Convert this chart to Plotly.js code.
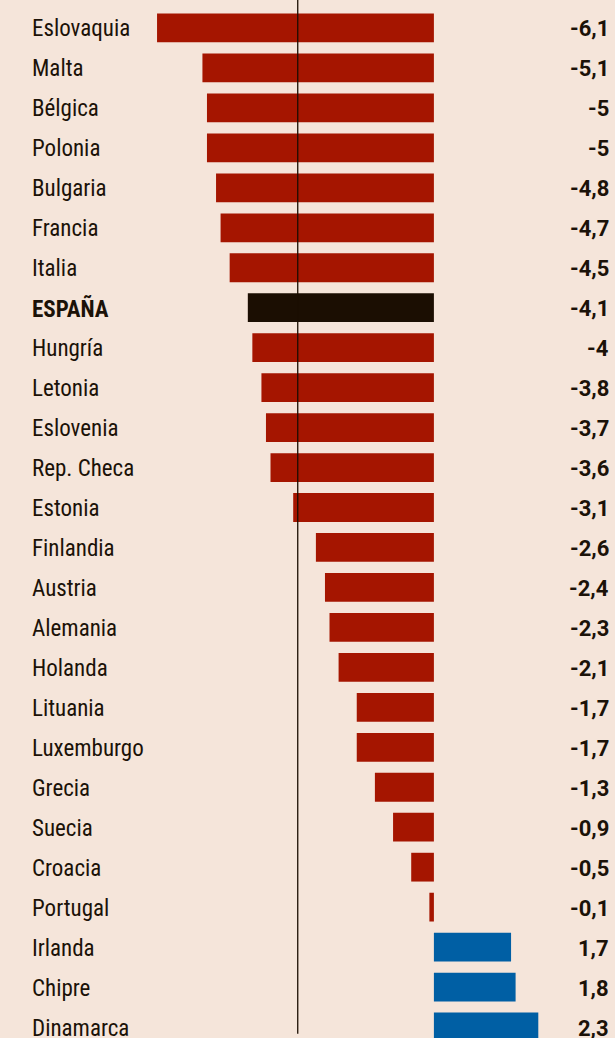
<!DOCTYPE html>
<html>
<head>
<meta charset="utf-8">
<script src="https://cdn.plot.ly/plotly-3.0.1.min.js"></script>
<style>
html,body{margin:0;padding:0;background:#f5e5da;}
#chart{width:615px;height:1038px;}
</style>
</head>
<body>
<div id="chart"></div>
<script>
const countries = ["Eslovaquia","Malta","Bélgica","Polonia","Bulgaria","Francia","Italia","ESPAÑA","Hungría","Letonia","Eslovenia","Rep. Checa","Estonia","Finlandia","Austria","Alemania","Holanda","Lituania","Luxemburgo","Grecia","Suecia","Croacia","Portugal","Irlanda","Chipre","Dinamarca"];
const balance = [-6.1,-5.1,-5,-5,-4.8,-4.7,-4.5,-4.1,-4,-3.8,-3.7,-3.6,-3.1,-2.6,-2.4,-2.3,-2.1,-1.7,-1.7,-1.3,-0.9,-0.5,-0.1,1.7,1.8,2.3];
const highlight = "ESPAÑA";
const limit = -3;

const RED = "#a51500", BLUE = "#005fa4", BLACK = "#1b0e02";
const colors = countries.map((c,i)=> c===highlight ? BLACK : (balance[i] >= 0 ? BLUE : RED));
const fmt = v => String(v).replace('.', ',');

const FONT = "'Roboto Condensed','Liberation Sans Narrow','DejaVu Sans Condensed','Liberation Sans',sans-serif";
const VFONT = "Roboto,'Liberation Sans',sans-serif";

const annotations = [];
countries.forEach((c,i)=>{
  annotations.push({
    xref:'paper', yref:'y', x:0.048, y:c, xanchor:'left', yanchor:'middle', yshift:-1,
    text: c===highlight ? '<b>'+c+'</b>' : c, showarrow:false,
    font:{family:FONT, size:23, color:'#1b1208'}
  });
  annotations.push({
    xref:'paper', yref:'y', x:0.994, y:c, xanchor:'right', yanchor:'middle', yshift:-1,
    text:'<b>'+fmt(balance[i])+'</b>', showarrow:false,
    font:{family:VFONT, size:22, color:'#1b1208'}
  });
});

const data = [{
  type:'bar', orientation:'h',
  y: countries, x: balance,
  marker:{color:colors, line:{width:0}},
  width:0.72,
  hoverinfo:'skip'
}];

const layout = {
  width:615, height:1038,
  margin:{l:0,r:0,t:0,b:0,pad:0},
  paper_bgcolor:'#f5e5da', plot_bgcolor:'#f5e5da',
  showlegend:false,
  xaxis:{range:[-9.56,3.99], visible:false, fixedrange:true, zeroline:false, showgrid:false},
  yaxis:{type:'category', range:[25.275,-0.7], visible:false, showgrid:false, zeroline:false},
  shapes:[{type:'line', xref:'x', yref:'paper', x0:limit, x1:limit, y0:0.004, y1:1, line:{color:'#1b0e02', width:1.3}, layer:'above'}],
  annotations: annotations
};

Plotly.newPlot('chart', data, layout, {displayModeBar:false, staticPlot:true});
</script>
</body>
</html>
